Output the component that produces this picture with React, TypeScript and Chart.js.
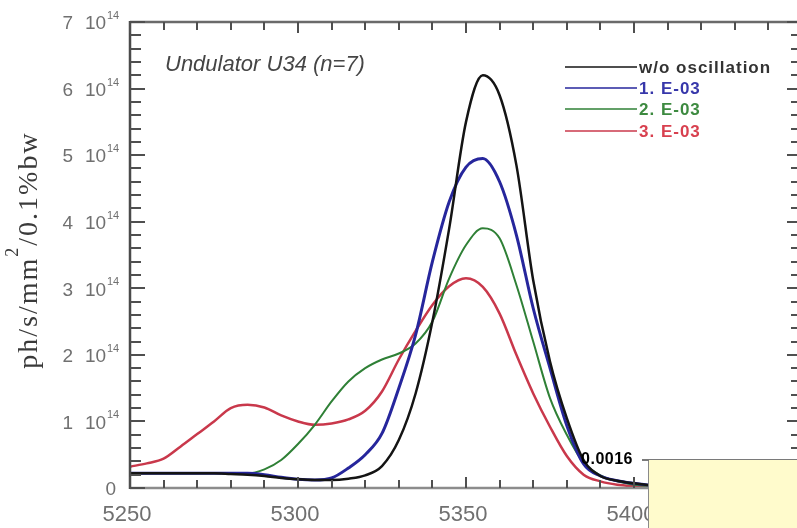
import React, { useEffect, useRef } from "react";
import { Chart, registerables } from "chart.js";

Chart.register(...registerables);

// Photon energy (eV)
const energy = [
  5250, 5255, 5260, 5265, 5270, 5275, 5280, 5285, 5290, 5295,
  5300, 5305, 5310, 5315, 5320, 5325, 5330, 5335, 5340, 5345,
  5350, 5355, 5360, 5365, 5370, 5375, 5380, 5385, 5390, 5395,
  5400, 5405, 5410, 5415, 5420, 5425, 5430, 5435, 5440, 5445, 5450,
];

// Flux in units of 10^14 ph/s/mm²/0.1%bw
const woOscillation = [
  0.22, 0.22, 0.22, 0.22, 0.22, 0.22, 0.21, 0.2, 0.18, 0.15,
  0.13, 0.12, 0.12, 0.14, 0.19, 0.33, 0.72, 1.42, 2.5, 3.9,
  5.5, 6.2, 5.9, 4.85, 3.12, 1.9, 1.05, 0.42, 0.18, 0.11,
  0.07, 0.04, 0.03, 0.02, 0.02, 0.01, 0.01, 0.01, 0.01, 0.01, 0.01,
];
const osc1E03 = [
  0.22, 0.22, 0.22, 0.22, 0.22, 0.22, 0.22, 0.22, 0.2, 0.16,
  0.13, 0.12, 0.15, 0.3, 0.5, 0.82, 1.5, 2.3, 3.4, 4.3,
  4.82, 4.95, 4.6, 3.8, 2.7, 1.8, 0.94, 0.36, 0.18, 0.11,
  0.07, 0.04, 0.03, 0.02, 0.02, 0.01, 0.01, 0.01, 0.01, 0.01, 0.01,
];
const osc2E03 = [
  0.22, 0.22, 0.22, 0.22, 0.22, 0.22, 0.22, 0.22, 0.28, 0.42,
  0.66, 0.95, 1.3, 1.6, 1.8, 1.93, 2.02, 2.17, 2.5, 3.15,
  3.65, 3.9, 3.75, 3.05, 2.2, 1.35, 0.8, 0.38, 0.19, 0.1,
  0.05, 0.03, 0.02, 0.02, 0.01, 0.01, 0.01, 0.01, 0.01, 0.01, 0.01,
];
const osc3E03 = [
  0.32, 0.37, 0.44, 0.62, 0.81, 1.0, 1.2, 1.25, 1.21, 1.09,
  1.0, 0.95, 0.97, 1.03, 1.16, 1.45, 1.93, 2.36, 2.75, 3.03,
  3.15, 3.02, 2.62, 2.0, 1.42, 0.92, 0.48, 0.2, 0.1, 0.05,
  0.03, 0.02, 0.02, 0.01, 0.01, 0.01, 0.01, 0.01, 0.01, 0.01, 0.01,
];

const seriesNames = ["w/o oscillation", "1. E-03", "2. E-03", "3. E-03"];
const seriesColors = ["#141414", "#26269c", "#2f8036", "#c9384b"];
const legendTextColors = ["#333333", "#3737aa", "#3d8a40", "#d8404f"];
const seriesWidths = [2.5, 3, 2, 2.5];

const yMajorTicks = [0, 1, 2, 3, 4, 5, 6, 7];
const yMinorTicks = [
  0.2, 0.4, 0.6, 0.8, 1.2, 1.4, 1.6, 1.8, 2.2, 2.4, 2.6, 2.8, 3.2, 3.4, 3.6,
  3.8, 4.2, 4.4, 4.6, 4.8, 5.2, 5.4, 5.6, 5.8, 6.2, 6.4, 6.6, 6.8,
];
const yExponent = "14";
const xMajorTicks = [5250, 5300, 5350, 5400, 5450];
const xMinorTicks = [
  5260, 5270, 5280, 5290, 5310, 5320, 5330, 5340, 5360, 5370, 5380, 5390,
  5410, 5420, 5430, 5440,
];
const annotationText = "Undulator U34 (n=7)";
const insetLabel = "0.0016";

const SANS = '"Liberation Sans", Arial, sans-serif';
const SERIF = '"Liberation Serif", "Times New Roman", serif';

function drawTicks(chart: any) {
  const ctx = chart.ctx as CanvasRenderingContext2D;
  const a = chart.chartArea;
  const xs = chart.scales.x;
  const ys = chart.scales.y;
  ctx.save();
  ctx.globalAlpha = 1;
  ctx.setLineDash([]);
  ctx.strokeStyle = "#4f4f4f";
  ctx.lineWidth = 2;
  const yTick = (v: number, len: number) => {
    const py = Math.round(ys.getPixelForValue(v));
    ctx.beginPath();
    ctx.moveTo(a.left, py);
    ctx.lineTo(a.left + len, py);
    ctx.stroke();
    ctx.beginPath();
    ctx.moveTo(a.right, py);
    ctx.lineTo(a.right - len, py);
    ctx.stroke();
  };
  const xTick = (v: number, len: number) => {
    const px = Math.round(xs.getPixelForValue(v));
    ctx.beginPath();
    ctx.moveTo(px, a.bottom);
    ctx.lineTo(px, a.bottom - len);
    ctx.stroke();
    ctx.beginPath();
    ctx.moveTo(px, a.top);
    ctx.lineTo(px, a.top + len);
    ctx.stroke();
  };
  yMinorTicks.forEach((v) => yTick(v, 11));
  yMajorTicks.forEach((v) => yTick(v, 15));
  xMinorTicks.forEach((v) => xTick(v, 8));
  xMajorTicks.forEach((v) => xTick(v, 11));
  ctx.restore();
}

function drawFrame(chart: any) {
  const ctx = chart.ctx as CanvasRenderingContext2D;
  const a = chart.chartArea;
  ctx.save();
  ctx.lineWidth = 2.5;
  ctx.strokeStyle = "#8c8c8c";
  ctx.beginPath();
  ctx.moveTo(a.left, a.bottom);
  ctx.lineTo(a.right, a.bottom);
  ctx.stroke();
  ctx.strokeStyle = "#6a6a6a";
  ctx.beginPath();
  ctx.moveTo(a.left, a.top);
  ctx.lineTo(a.right, a.top);
  ctx.lineTo(a.right, a.bottom);
  ctx.stroke();
  ctx.strokeStyle = "#4a4a4a";
  ctx.beginPath();
  ctx.moveTo(a.left, a.top - 1);
  ctx.lineTo(a.left, a.bottom + 1);
  ctx.stroke();
  ctx.restore();
}

function drawTexts(chart: any) {
  const ctx = chart.ctx as CanvasRenderingContext2D;
  const xs = chart.scales.x;
  const ys = chart.scales.y;
  ctx.save();
  ctx.fillStyle = "#707070";
  ctx.textBaseline = "middle";
  yMajorTicks.forEach((v) => {
    const py = ys.getPixelForValue(v) + 2;
    ctx.font = `19px ${SANS}`;
    ctx.textAlign = "right";
    if (v === 0) {
      ctx.fillText("0", 116, py);
      return;
    }
    ctx.fillText(String(v), 73, py);
    ctx.textAlign = "left";
    ctx.fillText("10", 85, py);
    ctx.font = `11px ${SANS}`;
    ctx.fillText(yExponent, 107, py - 8);
  });
  ctx.font = `22px ${SANS}`;
  ctx.textAlign = "center";
  xMajorTicks.forEach((v) => {
    const px = xs.getPixelForValue(v) - 3;
    ctx.fillText(String(v), px, 515);
  });
  ctx.restore();

  // y-axis title (rotated)
  ctx.save();
  ctx.translate(37, 250);
  ctx.rotate(-Math.PI / 2);
  ctx.fillStyle = "#3a3a3a";
  ctx.textAlign = "left";
  ctx.textBaseline = "alphabetic";
  (ctx as any).letterSpacing = "2px";
  const parts: [string, string, number][] = [
    ["ph/s/mm", `28px ${SERIF}`, 0],
    ["2", `18px ${SERIF}`, -19],
    ["/0.1%bw", `28px ${SERIF}`, 0],
  ];
  let total = 0;
  parts.forEach(([t, f]) => {
    ctx.font = f;
    total += ctx.measureText(t).width;
  });
  let cx = -total / 2;
  parts.forEach(([t, f, dy]) => {
    ctx.font = f;
    ctx.fillText(t, cx, dy);
    cx += ctx.measureText(t).width;
  });
  ctx.restore();

  ctx.save();
  ctx.fillStyle = "#454545";
  ctx.textAlign = "left";
  ctx.textBaseline = "alphabetic";
  ctx.font = `italic 22px ${SANS}`;
  ctx.fillText(annotationText, 165, 71);

  const ds = chart.data.datasets;
  const legendY = [67, 88, 109, 131];
  ds.forEach((d: any, i: number) => {
    ctx.strokeStyle = d.borderColor;
    ctx.globalAlpha = 0.75;
    ctx.lineWidth = 2;
    ctx.beginPath();
    ctx.moveTo(565, legendY[i]);
    ctx.lineTo(637, legendY[i]);
    ctx.stroke();
    ctx.globalAlpha = 1;
    ctx.fillStyle = legendTextColors[i];
    ctx.font = `bold 17px ${SANS}`;
    (ctx as any).letterSpacing = "1px";
    ctx.textBaseline = "middle";
    ctx.fillText(d.label, 639, legendY[i] + 1);
  });
  ctx.restore();
}

const decorPlugin = {
  id: "decor",
  afterDraw(chart: any) {
    drawFrame(chart);
    drawTexts(chart);
    drawTicks(chart);
  },
};

export default function App() {
  const canvasRef = useRef<HTMLCanvasElement | null>(null);

  useEffect(() => {
    const canvas = canvasRef.current;
    if (!canvas) return;
    const series = [woOscillation, osc1E03, osc2E03, osc3E03];
    const chart = new Chart(canvas, {
      type: "line",
      data: {
        datasets: series.map((vals, i) => ({
          label: seriesNames[i],
          data: energy.map((e, j) => ({ x: e, y: vals[j] })),
          borderColor: seriesColors[i],
          borderWidth: seriesWidths[i],
          pointRadius: 0,
          fill: false,
          cubicInterpolationMode: "monotone" as const,
        })),
      },
      options: {
        animation: false,
        responsive: false,
        devicePixelRatio: 1,
        layout: { padding: { left: 130, top: 22, right: 8, bottom: 40 } },
        plugins: {
          legend: { display: false },
          tooltip: { enabled: false },
          title: { display: false },
        },
        scales: {
          x: { type: "linear", min: 5250, max: 5450, display: false },
          y: { type: "linear", min: 0, max: 7, display: false },
        },
      },
      plugins: [decorPlugin],
    });
    return () => chart.destroy();
  }, []);

  return (
    <div
      style={{
        position: "absolute",
        left: 0,
        top: 0,
        width: 797,
        height: 528,
        overflow: "hidden",
        background: "#ffffff",
      }}
    >
      <canvas
        ref={canvasRef}
        width={810}
        height={528}
        style={{ width: 810, height: 528, display: "block" }}
      />
      <div
        style={{
          position: "absolute",
          left: 648,
          top: 459,
          width: 160,
          height: 80,
          background: "#fffbcc",
          borderTop: "1.5px solid #7a7a7a",
          borderLeft: "1px solid #8a8a8a",
        }}
      />
      <div
        style={{
          position: "absolute",
          left: 642,
          top: 459,
          width: 7,
          height: 1.5,
          background: "#7a7a7a",
        }}
      />
      <div
        style={{
          position: "absolute",
          left: 552,
          top: 448,
          width: 81,
          textAlign: "right",
          font: `bold 16px ${SANS}`,
          lineHeight: "22px",
          color: "#000",
          letterSpacing: "0.5px",
        }}
      >
        {insetLabel}
      </div>
    </div>
  );
}
